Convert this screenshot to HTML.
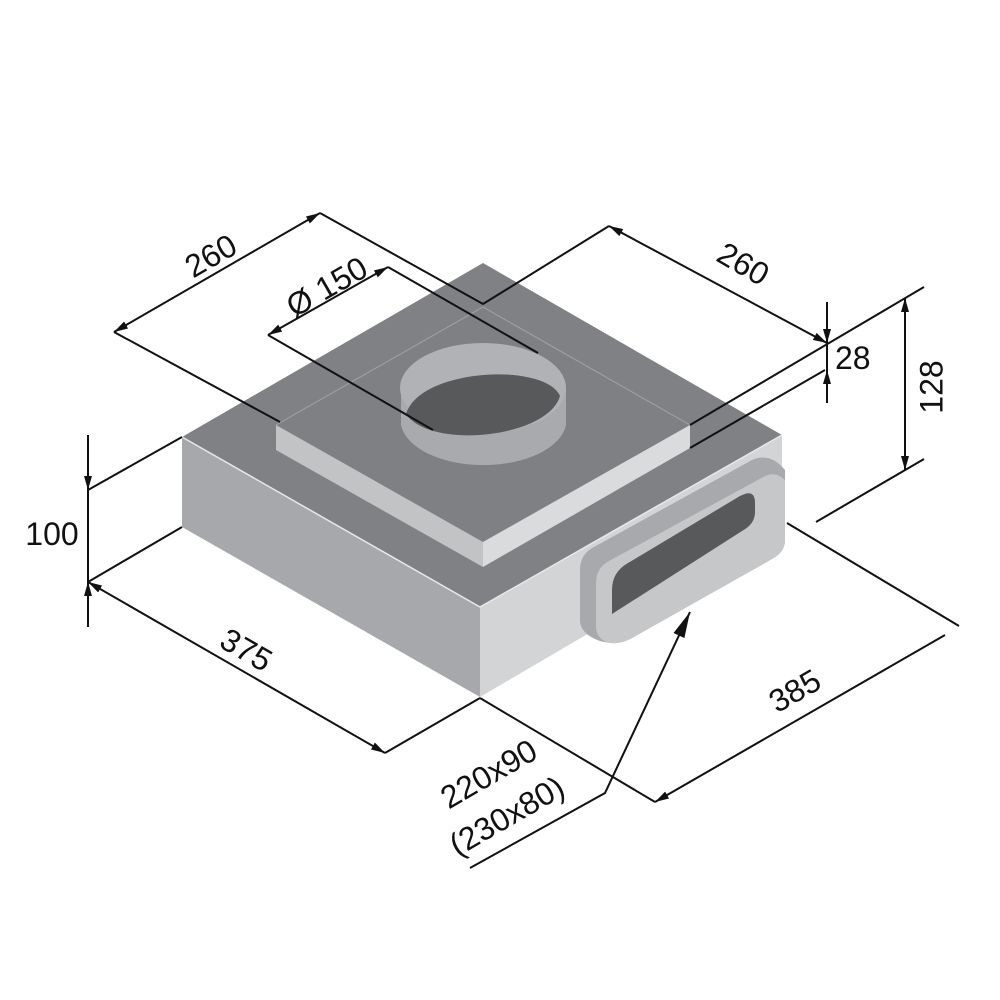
<!DOCTYPE html>
<html><head><meta charset="utf-8"><style>
html,body{margin:0;padding:0;background:#fff;}
svg{display:block}
text{font-family:"Liberation Sans",Arial,sans-serif;font-size:32px;fill:#111}
</style></head><body>
<svg width="1000" height="1000" viewBox="0 0 1000 1000" xmlns="http://www.w3.org/2000/svg">
<defs>
<marker id="a" viewBox="0 0 14 8" refX="14" refY="4" markerWidth="14" markerHeight="8" markerUnits="userSpaceOnUse" orient="auto-start-reverse"><path d="M0,0 L14,4 L0,8 Z" fill="#111"/></marker>
<marker id="b" viewBox="0 0 26 12" refX="26" refY="6" markerWidth="26" markerHeight="12" markerUnits="userSpaceOnUse" orient="auto"><path d="M0,0 L26,6 L0,12 Z" fill="#111"/></marker>
</defs>
<polygon points="182,437 483,263 782,435 480,607" fill="#808184"/>
<polygon points="182,437 480,607 480,697 182,527" fill="#a7a8ab"/>
<polygon points="480,607 782,435 782,520 480,697" fill="#d3d4d6"/>
<polyline points="182,437 480,607 782,435" fill="none" stroke="#e8e8e8" stroke-width="1.5"/>
<polygon points="276,425 483,307 690,425 483,542" fill="#7f8083"/>
<polygon points="276,425 483,542 483,567 276,450" fill="#c2c3c5"/>
<polygon points="483,542 690,425 690,448 483,567" fill="#dadbdd"/>
<polyline points="276,425 483,307 690,425" fill="none" stroke="#9c9da0" stroke-width="1.2"/>
<path d="M401,388 L401,425 A83,45 0 0 0 566,425 L566,388 Z" fill="#a9aaad"/>
<ellipse cx="483" cy="388" rx="83" ry="45" fill="#b1b2b5"/>
<path d="M406,414 C420,368 545,362 560,396 C548,438 430,450 406,414 Z" fill="#58595b"/>
<path d="M580,570 Q580,554 594,547 L752,460 Q770,452 785,470 L785,540 Q785,552 772,559 L632,638 Q618,646 600,641 Q580,634 580,620 Z" fill="#a8a9ac"/>
<path d="M596,583 Q596,568 609,561 L765,476 Q776,471 785,480 L785,540 Q785,552 772,559 L632,638 Q618,646 606,642 Q596,637 596,626 Z" fill="#c6c7c9"/>
<path d="M612,590 Q612,572 628,563 L740,496 Q755,488 755,503 L755,512 Q755,524 742,531 L612,614 Z" fill="#58595b"/>
<g stroke="#111" stroke-width="2" fill="none">
<polyline points="280,422 114,332"/>
<line x1="114" y1="332" x2="320" y2="213" marker-start="url(#a)" marker-end="url(#a)"/>
<polyline points="320,213 483,304 609,226"/>
<polyline points="433,430 268,335"/>
<line x1="268" y1="335" x2="388" y2="267" marker-start="url(#a)" marker-end="url(#a)"/>
<polyline points="388,267 538,353"/>
<line x1="609" y1="226" x2="827" y2="343" marker-start="url(#a)" marker-end="url(#a)"/>
<line x1="690" y1="425" x2="924" y2="287"/>
<line x1="690" y1="448" x2="825" y2="370"/>
<line x1="827" y1="302" x2="827" y2="343" marker-end="url(#a)"/>
<line x1="827" y1="403" x2="827" y2="370" marker-end="url(#a)"/>
<line x1="827" y1="343" x2="827" y2="370"/>
<line x1="905" y1="298" x2="905" y2="470" marker-start="url(#a)" marker-end="url(#a)"/>
<line x1="816" y1="522" x2="924" y2="459"/>
<line x1="88" y1="435" x2="88" y2="490" marker-end="url(#a)"/>
<line x1="88" y1="627" x2="88" y2="582" marker-end="url(#a)"/>
<line x1="88" y1="490" x2="88" y2="582"/>
<line x1="88" y1="490" x2="182" y2="437"/>
<line x1="88" y1="582" x2="182" y2="527"/>
<line x1="88" y1="582" x2="385" y2="753" marker-start="url(#a)" marker-end="url(#a)"/>
<line x1="385" y1="753" x2="480" y2="698"/>
<line x1="480" y1="698" x2="655" y2="802"/>
<line x1="655" y1="802" x2="945" y2="635" marker-start="url(#a)"/>
<line x1="787" y1="523" x2="959" y2="626"/>
<polyline points="470,868 605,793 690,612" marker-end="url(#b)"/>
</g>
<text transform="translate(212,258) rotate(-30)" text-anchor="middle" dominant-baseline="middle">260</text>
<text transform="translate(328,289) rotate(-30)" text-anchor="middle" dominant-baseline="middle">Ø 150</text>
<text transform="translate(742,266) rotate(30)" text-anchor="middle" dominant-baseline="middle">260</text>
<text x="835" y="369">28</text>
<text transform="translate(934,387) rotate(-90)" text-anchor="middle" dominant-baseline="middle">128</text>
<text x="52" y="545" text-anchor="middle">100</text>
<text transform="translate(245,652) rotate(30)" text-anchor="middle" dominant-baseline="middle">375</text>
<text transform="translate(796,693) rotate(-30)" text-anchor="middle" dominant-baseline="middle">385</text>
<text transform="translate(490,776) rotate(-30)" text-anchor="middle" dominant-baseline="middle">220x90</text>
<text transform="translate(508,818) rotate(-30)" text-anchor="middle" dominant-baseline="middle">(230x80)</text>
</svg>
</body></html>
